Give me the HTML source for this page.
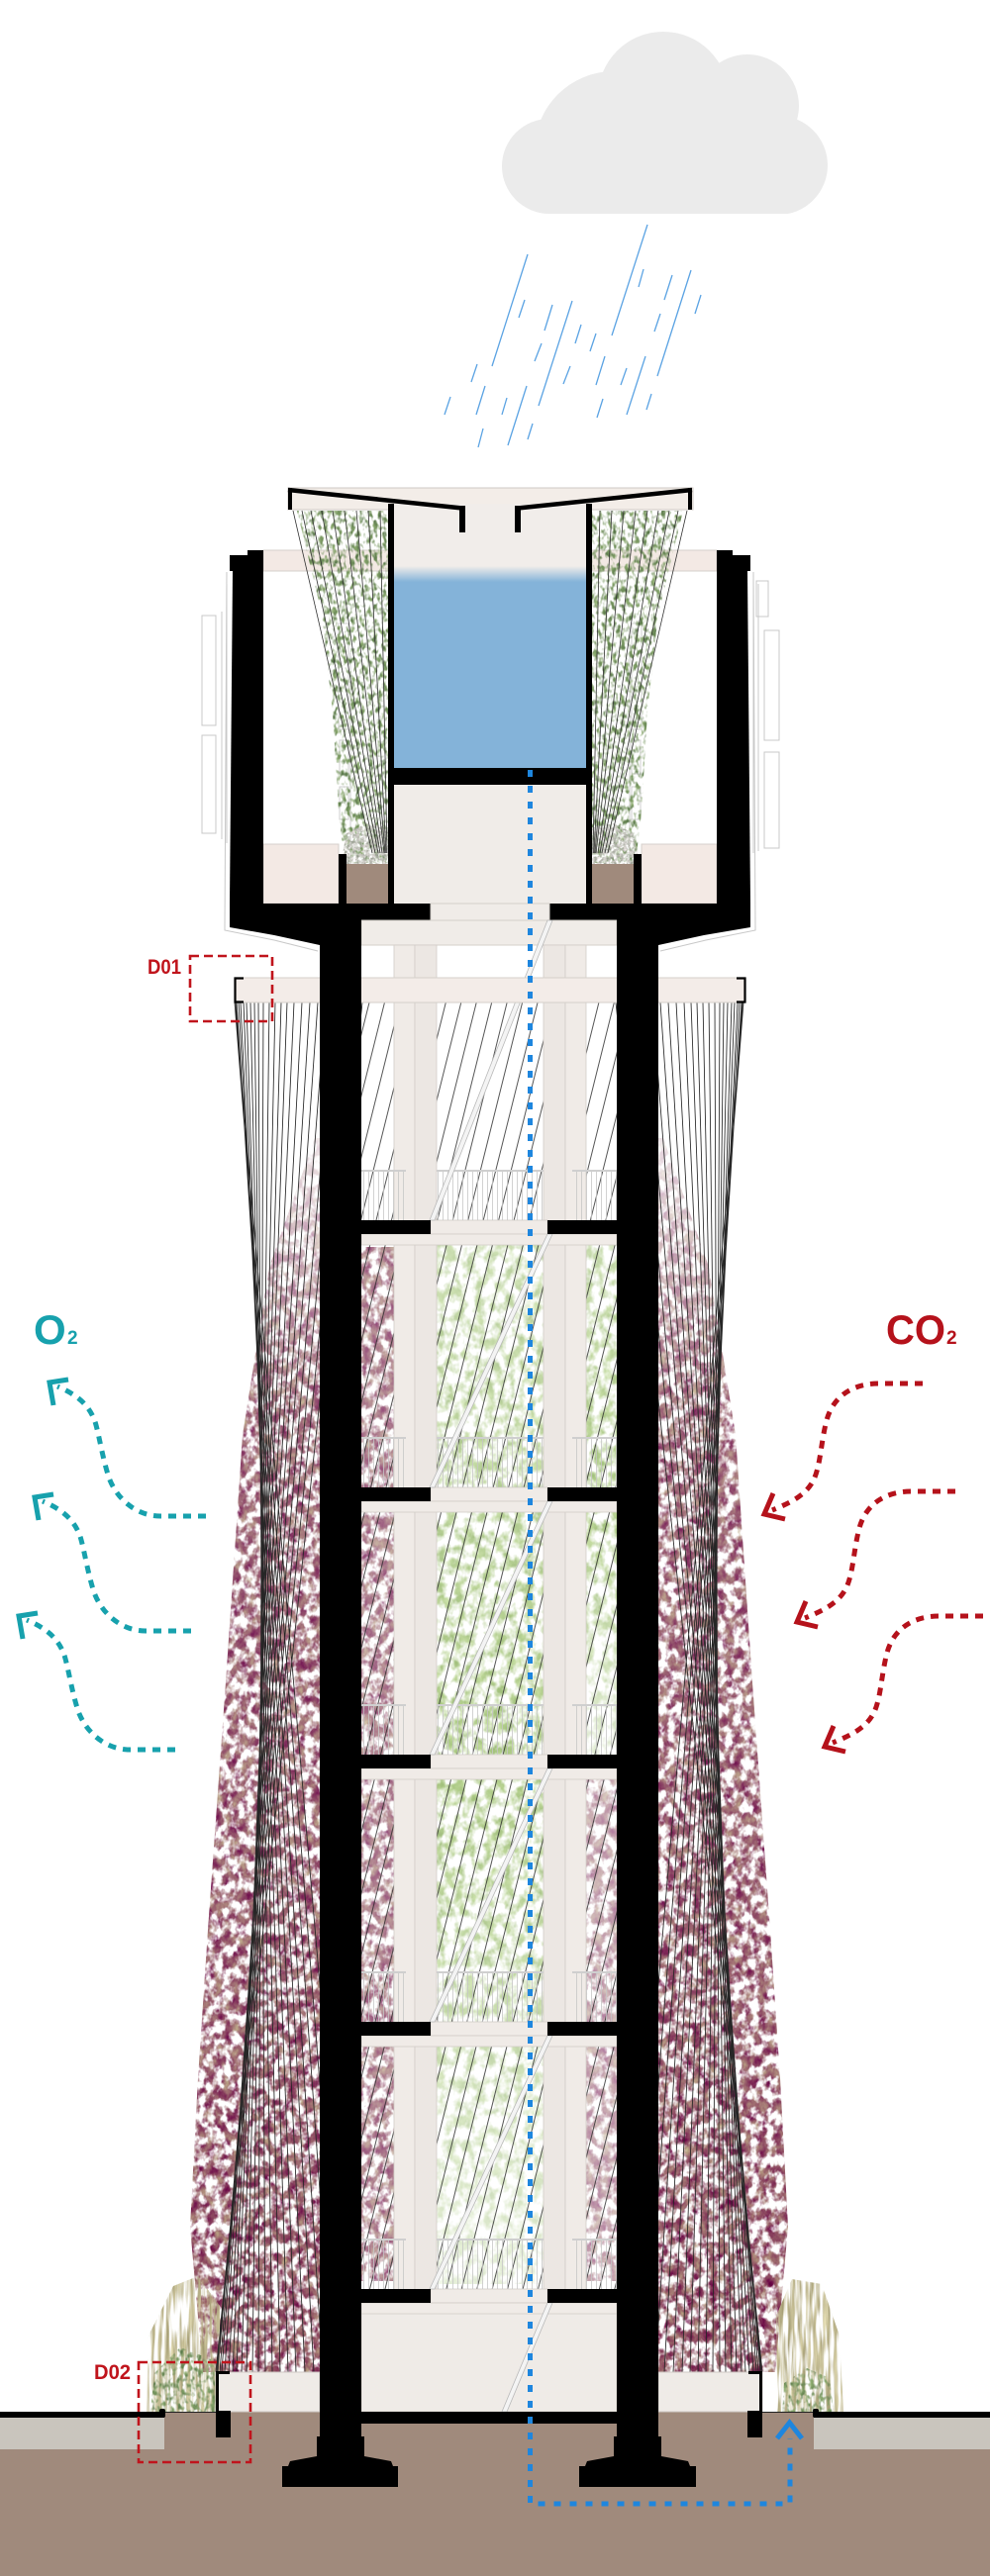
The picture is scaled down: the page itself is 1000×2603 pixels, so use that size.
<!DOCTYPE html>
<html><head><meta charset="utf-8"><title>Tower section</title>
<style>html,body{margin:0;padding:0;background:#fff}svg{display:block}</style>
</head><body>
<svg xmlns="http://www.w3.org/2000/svg" width="1000" height="2603" viewBox="0 0 1000 2603">
<defs>
<clipPath id="cloudClip"><rect x="0" y="0" width="1000" height="216"/></clipPath>
<linearGradient id="wfade" x1="0" y1="0" x2="0" y2="1"><stop offset="0" stop-color="#f1edea"/><stop offset="1" stop-color="#84b3d9"/></linearGradient>
<linearGradient id="vineA" x1="0" y1="0" x2="0" y2="1"><stop offset="0" stop-color="#000" stop-opacity="0.15"/><stop offset="0.22" stop-color="#000" stop-opacity="0.85"/><stop offset="1" stop-color="#000" stop-opacity="1"/></linearGradient>
<linearGradient id="greenA" x1="0" y1="0" x2="0" y2="1"><stop offset="0" stop-color="#000" stop-opacity="0.6"/><stop offset="0.5" stop-color="#000" stop-opacity="0.9"/><stop offset="1" stop-color="#000" stop-opacity="0.3"/></linearGradient>
<filter id="fVine" x="0" y="0" width="1" height="1" color-interpolation-filters="sRGB">
 <feTurbulence type="fractalNoise" baseFrequency="0.12 0.09" numOctaves="3" seed="11" result="n"/>
 <feColorMatrix in="n" type="matrix" values="0 0 0.45 0 0.33  0 0 0.9 0 -0.15  0 0 0.35 0 0.2  4.5 0 0 0 -1.65" result="c"/>
 <feComposite in="c" in2="SourceAlpha" operator="in"/>
</filter>
<filter id="fGreen" x="0" y="0" width="1" height="1" color-interpolation-filters="sRGB">
 <feTurbulence type="fractalNoise" baseFrequency="0.1 0.08" numOctaves="3" seed="4" result="n"/>
 <feColorMatrix in="n" type="matrix" values="0 0.3 0 0 0.5  0 0.25 0 0 0.65  0 0.3 0 0 0.33  3.5 0 0 0 -1.4" result="c"/>
 <feComposite in="c" in2="SourceAlpha" operator="in"/>
</filter>
<filter id="fBam" x="0" y="0" width="1" height="1" color-interpolation-filters="sRGB">
 <feTurbulence type="fractalNoise" baseFrequency="0.22 0.14" numOctaves="2" seed="21" result="n"/>
 <feColorMatrix in="n" type="matrix" values="0 0.4 0 0 0.26  0 0.4 0 0 0.38  0 0.3 0 0 0.22  4 0 0 0 -1.8" result="c"/>
 <feComposite in="c" in2="SourceAlpha" operator="in"/>
</filter>
<filter id="fFlower" x="0" y="0" width="1" height="1" color-interpolation-filters="sRGB">
 <feTurbulence type="fractalNoise" baseFrequency="0.3" numOctaves="2" seed="5" result="n"/>
 <feColorMatrix in="n" type="matrix" values="0 0.6 0 0 0.45  0 0.5 0 0 0.5  0 0.6 0 0 0.42  4 0 0 0 -1.4" result="c"/>
 <feComposite in="c" in2="SourceAlpha" operator="in"/>
</filter>
<filter id="fGrass" x="0" y="0" width="1" height="1" color-interpolation-filters="sRGB">
 <feTurbulence type="fractalNoise" baseFrequency="0.28 0.025" numOctaves="2" seed="9" result="n"/>
 <feColorMatrix in="n" type="matrix" values="0 0.4 0 0 0.55  0 0.4 0 0 0.52  0 0.4 0 0 0.36  4 0 0 0 -1.5" result="c"/>
 <feComposite in="c" in2="SourceAlpha" operator="in"/>
</filter>
<pattern id="diag" patternUnits="userSpaceOnUse" width="15" height="40" patternTransform="rotate(14)"><line x1="7" y1="-2" x2="7" y2="42" stroke="#2a2a2a" stroke-width="0.8"/></pattern>
<pattern id="rail" patternUnits="userSpaceOnUse" width="5" height="50"><line x1="2.5" y1="0" x2="2.5" y2="50" stroke="#c6c6c6" stroke-width="0.8"/></pattern>
</defs>

<!-- cloud -->
<g fill="#ebebeb" clip-path="url(#cloudClip)">
<circle cx="555" cy="168" r="48"/>
<circle cx="620" cy="152" r="80"/>
<circle cx="670" cy="98" r="66"/>
<circle cx="755" cy="107" r="52"/>
<circle cx="786" cy="167" r="50"/>
<rect x="555" y="120" width="231" height="96"/>
</g>

<!-- rain -->
<path stroke="#5ba3e3" stroke-width="1.3" fill="none" d="M533,257L497,370 M654,227L618,339 M698,273L664,380 M578,304L544,410 M532,390L513,450 M652,360L633,419 M650,272L645,290 M679,278L671,303 M708,298L702,317 M530,303L524,321 M558,308L550,334 M587,328L581,347 M602,337L596,355 M667,317L661,335 M547,347L540,365 M611,360L602,389 M576,370L569,388 M633,372L627,389 M482,368L476,386 M490,390L481,419 M512,402L507,419 M455,401L449,419 M609,403L603,422 M658,398L653,414 M488,433L483,452 M538,428L533,444"/>

<!-- crown light fills -->
<rect x="291" y="493" width="409" height="22" fill="#f3ede8" stroke="#cfc9c4" stroke-width="1"/>
<rect x="466" y="512" width="58" height="26" fill="#f3ede8" stroke="#cfc9c4" stroke-width="1"/>
<rect x="398" y="509" width="194" height="64" fill="#f1edea"/>
<rect x="398" y="572" width="194" height="16" fill="url(#wfade)"/>
<rect x="398" y="588" width="194" height="189" fill="#84b3d9"/>
<rect x="398" y="793" width="194" height="120" fill="#f0ece8"/>
<g fill="#f3e9e4" stroke="#d6d0cb" stroke-width="1">
<rect x="266" y="556" width="126" height="21"/>
<rect x="598" y="556" width="126" height="21"/>
<rect x="266" y="853" width="76" height="60"/>
<rect x="648" y="853" width="76" height="60"/>
</g>
<g fill="none" stroke="#cfcfcf" stroke-width="1">
<rect x="342" y="630" width="10" height="107"/><rect x="343" y="748" width="9" height="34"/><rect x="343" y="795" width="9" height="33"/>
<rect x="638" y="630" width="10" height="107"/><rect x="638" y="748" width="9" height="34"/><rect x="638" y="795" width="9" height="33"/>
<line x1="354" y1="660" x2="354" y2="900"/><line x1="636" y1="660" x2="636" y2="900"/>
</g>

<!-- crown bamboo -->
<polygon points="300,516 392,516 392,872 348,872 342,820 336,720 325,620" fill="#000" filter="url(#fBam)"/>
<polygon points="690,516 598,516 598,872 642,872 648,820 654,720 665,620" fill="#000" filter="url(#fBam)"/>
<polygon points="344,873 392,873 392,836 370,832 350,842" fill="#000" filter="url(#fFlower)"/>
<polygon points="646,873 598,873 598,836 620,832 640,842" fill="#000" filter="url(#fFlower)"/>
<path stroke="#333" stroke-width="0.8" fill="none" d="M296,516L376,862 M305,516L379,862 M314,516L382,862 M325,516L384,862 M336,516L386,862 M348,516L388,862 M360,516L389,862 M372,516L390,862 M384,516L391,862 M694,516L614,862 M685,516L611,862 M676,516L608,862 M665,516L606,862 M654,516L604,862 M642,516L602,862 M630,516L601,862 M618,516L600,862 M606,516L599,862"/>

<!-- crown windows -->
<g fill="#fff" stroke="#c8c8c8" stroke-width="1">
<rect x="204" y="622" width="14" height="111"/><rect x="204" y="743" width="14" height="99"/>
<rect x="772" y="637" width="15" height="111"/><rect x="772" y="760" width="15" height="97"/><rect x="764" y="587" width="12" height="36"/>
</g>
<path stroke="#c8c8c8" stroke-width="1" fill="none" d="M224,618V848 M229,590V852 M761,585V862 M766,590V860 M229,578 L227,940 L277,950 L321,961 M761,578 L763,940 L713,950 L667,961"/>

<!-- crown black -->
<g fill="#000">
<rect x="250" y="556" width="16" height="357"/><rect x="232" y="561" width="18" height="16"/><polygon points="235,577 250,577 250,913 232,913"/>
<rect x="724" y="556" width="16" height="357"/><rect x="740" y="561" width="18" height="16"/><polygon points="755,577 740,577 740,913 758,913"/>
<rect x="392" y="509" width="6" height="404"/><rect x="592" y="509" width="6" height="404"/>
<rect x="392" y="776" width="206" height="17"/>
<rect x="464" y="511" width="6" height="27"/><rect x="520" y="511" width="6" height="27"/>
<rect x="291" y="493" width="4" height="22"/><rect x="695" y="493" width="4" height="22"/>
<polygon points="232,913 435,913 435,930 365,930 365,960 323,960 323,955 277,945 232,937"/>
<polygon points="758,913 555,913 555,930 623,930 623,960 665,960 665,955 711,945 758,937"/>
<rect x="342" y="863" width="8" height="50"/><rect x="640" y="863" width="8" height="50"/>
</g>
<path d="M291,495 L467,513.5 M699,495 L523,513.5" stroke="#000" stroke-width="4.5" fill="none"/>
<rect x="350" y="873" width="42" height="40" fill="#a08a7c"/>
<rect x="598" y="873" width="42" height="40" fill="#a08a7c"/>

<!-- shaft top fills -->
<rect x="435" y="913" width="120" height="17" fill="#f0ece8" stroke="#d4cfca" stroke-width="1"/>
<rect x="365" y="930" width="258" height="25" fill="#f0ece8" stroke="#d4cfca" stroke-width="1"/>

<!-- vines -->
<polygon points="318,1150 323,1150 323,2397 205,2397 192,2250 200,2100 210,1950 228,1700 245,1450 272,1280" fill="url(#vineA)" filter="url(#fVine)"/>
<polygon points="670,1150 665,1150 665,2397 783,2397 796,2250 788,2100 778,1950 760,1700 743,1450 716,1280" fill="url(#vineA)" filter="url(#fVine)"/>
<rect x="365" y="1260" width="33" height="1045" fill="#000" fill-opacity="0.7" filter="url(#fVine)"/>
<rect x="592" y="1780" width="31" height="525" fill="#000" fill-opacity="0.5" filter="url(#fVine)"/>
<!-- green tree -->
<rect x="441" y="1258" width="108" height="1050" fill="url(#greenA)" filter="url(#fGreen)"/>
<rect x="592" y="1258" width="31" height="520" fill="url(#greenA)" filter="url(#fGreen)"/>

<!-- cables -->
<rect x="365" y="1013" width="258" height="1300" fill="url(#diag)"/>
<path stroke="#262626" stroke-width="0.85" fill="none" d="M366,1013L218,2397 M356,1013L218,2397 M347,1013L219,2397 M338,1013L220,2397 M329,1013L222,2397 M321,1013L224,2397 M313,1013L227,2397 M305,1013L231,2397 M297,1013L235,2397 M290,1013L239,2397 M284,1013L244,2397 M278,1013L249,2397 M272,1013L255,2397 M266,1013L261,2397 M261,1013L268,2397 M257,1013L275,2397 M253,1013L283,2397 M249,1013L291,2397 M246,1013L299,2397 M243,1013L308,2397 M241,1013L317,2397 M239,1013L326,2397 M238,1013L336,2397 M237,1013L346,2397 M237,1013L357,2397
M622,1013L770,2397 M632,1013L770,2397 M641,1013L769,2397 M650,1013L768,2397 M659,1013L766,2397 M667,1013L764,2397 M675,1013L761,2397 M683,1013L757,2397 M691,1013L753,2397 M698,1013L749,2397 M704,1013L744,2397 M710,1013L739,2397 M716,1013L733,2397 M722,1013L727,2397 M727,1013L720,2397 M731,1013L713,2397 M735,1013L705,2397 M739,1013L697,2397 M742,1013L689,2397 M745,1013L680,2397 M747,1013L671,2397 M749,1013L662,2397 M750,1013L652,2397 M751,1013L642,2397 M751,1013L631,2397"/>

<!-- interior light columns -->
<g fill="#f0ebe7" stroke="#d2cdc8" stroke-width="0.8">
<rect x="398" y="955" width="21" height="1482"/><rect x="419" y="955" width="22" height="1482" fill="#ece7e3"/>
<rect x="549" y="955" width="22" height="1482" fill="#ece7e3"/><rect x="571" y="955" width="21" height="1482"/>
</g>
<rect x="365" y="2327" width="258" height="110" fill="#efebe7" stroke="#d2cdc8" stroke-width="0.8"/>

<!-- floors -->
<g>
<g fill="#f0ebe7" stroke="#d2cdc8" stroke-width="0.8">
<rect x="435" y="1233" width="118" height="14"/><rect x="365" y="1247" width="258" height="11"/>
<rect x="435" y="1503" width="118" height="14"/><rect x="365" y="1517" width="258" height="11"/>
<rect x="435" y="1773" width="118" height="14"/><rect x="365" y="1787" width="258" height="11"/>
<rect x="435" y="2043" width="118" height="14"/><rect x="365" y="2057" width="258" height="11"/>
<rect x="435" y="2313" width="118" height="14"/><rect x="365" y="2327" width="258" height="11"/>
</g>
<g fill="url(#rail)">
<rect x="365" y="1183" width="45" height="50"/><rect x="441" y="1183" width="108" height="50"/><rect x="578" y="1183" width="45" height="50"/>
<rect x="365" y="1453" width="45" height="50"/><rect x="441" y="1453" width="108" height="50"/><rect x="578" y="1453" width="45" height="50"/>
<rect x="365" y="1723" width="45" height="50"/><rect x="441" y="1723" width="108" height="50"/><rect x="578" y="1723" width="45" height="50"/>
<rect x="365" y="1993" width="45" height="50"/><rect x="441" y="1993" width="108" height="50"/><rect x="578" y="1993" width="45" height="50"/>
<rect x="365" y="2263" width="45" height="50"/><rect x="441" y="2263" width="108" height="50"/><rect x="578" y="2263" width="45" height="50"/>
</g>
<path stroke="#cfcfcf" stroke-width="2" fill="none" d="M365,1183H410 M441,1183H549 M578,1183H623 M365,1453H410 M441,1453H549 M578,1453H623 M365,1723H410 M441,1723H549 M578,1723H623 M365,1993H410 M441,1993H549 M578,1993H623 M365,2263H410 M441,2263H549 M578,2263H623"/>
<g fill="#f4f4f4" stroke="#b9b9b9" stroke-width="0.8">
<polygon points="553,930 558,930 439,1233 434,1233"/>
<polygon points="553,1247 558,1247 439,1503 434,1503"/>
<polygon points="553,1517 558,1517 439,1773 434,1773"/>
<polygon points="553,1787 558,1787 439,2043 434,2043"/>
<polygon points="553,2057 558,2057 439,2313 434,2313"/>
<polygon points="553,2327 558,2327 512,2437 507,2437"/>
</g>
<g fill="#000">
<rect x="365" y="1233" width="70" height="14"/><rect x="553" y="1233" width="70" height="14"/>
<rect x="365" y="1503" width="70" height="14"/><rect x="553" y="1503" width="70" height="14"/>
<rect x="365" y="1773" width="70" height="14"/><rect x="553" y="1773" width="70" height="14"/>
<rect x="365" y="2043" width="70" height="14"/><rect x="553" y="2043" width="70" height="14"/>
<rect x="365" y="2313" width="70" height="14"/><rect x="553" y="2313" width="70" height="14"/>
</g>
</g>

<!-- ring band -->
<rect x="237" y="988" width="516" height="25" fill="#f3ece8" stroke="#d4cfca" stroke-width="1"/>
<path d="M246,988.5H237.5V1012.5H246 M744,988.5H752.5V1012.5H744" stroke="#000" stroke-width="2.2" fill="none"/>

<!-- ground -->
<rect x="0" y="2437" width="1000" height="166" fill="#a08a7c"/>
<rect x="0" y="2443" width="166" height="32" fill="#c9c5bd"/>
<rect x="822" y="2443" width="178" height="32" fill="#c9c5bd"/>
<polygon points="148,2437 222,2437 222,2330 200,2300 175,2310 150,2360" fill="#000" filter="url(#fGrass)"/>
<polygon points="785,2437 852,2437 848,2360 830,2308 800,2303 784,2340" fill="#000" filter="url(#fGrass)"/>
<polygon points="152,2437 218,2437 216,2385 182,2372 156,2398" fill="#000" filter="url(#fBam)"/>
<polygon points="790,2437 842,2437 838,2403 815,2393 792,2408" fill="#000" filter="url(#fBam)"/>
<rect x="218" y="2397" width="105" height="40" fill="#efebe7" stroke="#cfcac5" stroke-width="1"/>
<rect x="665" y="2397" width="105" height="40" fill="#efebe7" stroke="#cfcac5" stroke-width="1"/>
<path d="M166,2437.5H218 M770,2437.5H822" stroke="#222" stroke-width="1"/>
<g fill="#000">
<rect x="0" y="2437" width="166" height="6"/><rect x="822" y="2437" width="178" height="6"/>
<rect x="161" y="2434" width="6" height="9" rx="2"/><rect x="821" y="2434" width="6" height="9" rx="2"/>
<rect x="218" y="2396" width="14" height="3"/><rect x="218" y="2396" width="3" height="41"/>
<rect x="756" y="2396" width="14" height="3"/><rect x="767" y="2396" width="3" height="41"/>
<rect x="218" y="2436" width="15" height="27"/><rect x="755" y="2436" width="15" height="27"/>
<rect x="323" y="2437" width="342" height="12"/>
<rect x="323" y="913" width="42" height="1550"/><rect x="623" y="913" width="42" height="1550"/>
<polygon points="320,2462 368,2462 368,2482 395,2487 397,2492 402,2492 402,2513 285,2513 285,2492 291,2492 293,2487 320,2482"/>
<polygon points="620,2462 668,2462 668,2482 695,2487 697,2492 703,2492 703,2513 585,2513 585,2492 591,2492 593,2487 620,2482"/>
</g>

<!-- water path -->
<path d="M535.5,778 V2530 H798 V2464" stroke="#1e86de" stroke-width="5" stroke-dasharray="7 9" fill="none"/>
<polyline points="785,2464 797.5,2448 810,2464" stroke="#1e86de" stroke-width="5" fill="none"/>

<!-- labels -->
<text x="149" y="984" font-family="Liberation Sans, sans-serif" font-weight="bold" font-size="21" fill="#c0141c" textLength="34" lengthAdjust="spacingAndGlyphs">D01</text>
<rect x="192" y="966" width="83" height="66" fill="none" stroke="#c0141c" stroke-width="2.6" stroke-dasharray="9 5"/>
<text x="95" y="2404" font-family="Liberation Sans, sans-serif" font-weight="bold" font-size="21" fill="#c0141c" textLength="37" lengthAdjust="spacingAndGlyphs">D02</text>
<rect x="140" y="2387" width="113" height="101" fill="none" stroke="#c0141c" stroke-width="2.6" stroke-dasharray="9 5"/>

<text x="34" y="1358" font-family="Liberation Sans, sans-serif" font-weight="bold" font-size="42" fill="#17a1ad">O</text>
<text x="68" y="1358" font-family="Liberation Sans, sans-serif" font-weight="bold" font-size="19" fill="#17a1ad">2</text>
<text x="895" y="1358" font-family="Liberation Sans, sans-serif" font-weight="bold" font-size="42" fill="#b5121b" textLength="60" lengthAdjust="spacingAndGlyphs">CO</text>
<text x="956" y="1358" font-family="Liberation Sans, sans-serif" font-weight="bold" font-size="19" fill="#b5121b">2</text>

<!-- O2 arrows -->
<g stroke="#17a1ad" stroke-width="5" fill="none">
<g>
<path d="M208,1532 H162 C138,1532 118,1515 110,1493 C104,1475 101,1455 97,1440 C92,1422 80,1410 58,1401" stroke-dasharray="8 7"/>
<polyline points="69,1394 50,1397 54,1420"/>
</g>
<g transform="translate(-15,116)"><path d="M208,1532 H162 C138,1532 118,1515 110,1493 C104,1475 101,1455 97,1440 C92,1422 80,1410 58,1401" stroke-dasharray="8 7"/><polyline points="69,1394 50,1397 54,1420"/></g>
<g transform="translate(-31,236)"><path d="M208,1532 H162 C138,1532 118,1515 110,1493 C104,1475 101,1455 97,1440 C92,1422 80,1410 58,1401" stroke-dasharray="8 7"/><polyline points="69,1394 50,1397 54,1420"/></g>
</g>
<!-- CO2 arrows -->
<g stroke="#b5121b" stroke-width="5" fill="none">
<g><path d="M932,1398 H888 C862,1398 842,1410 835,1435 C829,1458 829,1480 822,1495 C815,1510 800,1518 780,1526" stroke-dasharray="8 7"/><polyline points="781,1509 772,1530 793,1535"/></g>
<g transform="translate(33,109)"><path d="M932,1398 H888 C862,1398 842,1410 835,1435 C829,1458 829,1480 822,1495 C815,1510 800,1518 780,1526" stroke-dasharray="8 7"/><polyline points="781,1509 772,1530 793,1535"/></g>
<g transform="translate(61,235)"><path d="M932,1398 H888 C862,1398 842,1410 835,1435 C829,1458 829,1480 822,1495 C815,1510 800,1518 780,1526" stroke-dasharray="8 7"/><polyline points="781,1509 772,1530 793,1535"/></g>
</g>
</svg>
</body></html>
